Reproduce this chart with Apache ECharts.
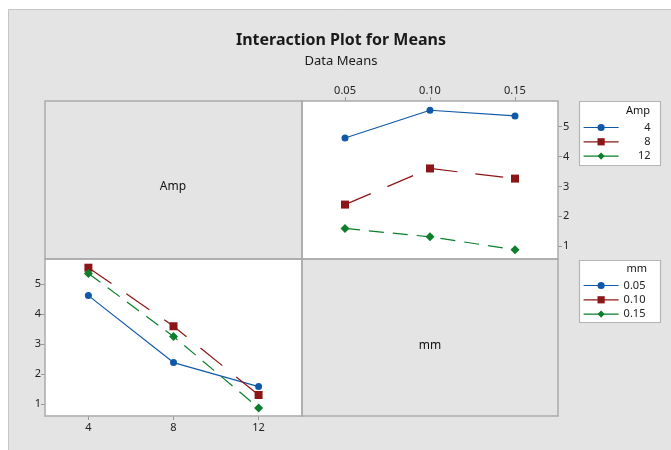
<!DOCTYPE html>
<html><head><meta charset="utf-8">
<script src="https://cdn.jsdelivr.net/npm/echarts@6/dist/echarts.min.js"></script>
<style>html,body{margin:0;padding:0;background:#fff}#c{width:671px;height:450px}</style>
</head><body><div id="c"></div>
<script>
// Data
const mmLevels = [0.05, 0.10, 0.15];
const ampLevels = [4, 8, 12];
const ampNames = ['4', '8', '12'];
const mmNames = ['0.05', '0.10', '0.15'];
// means[ampIndex][mmIndex]
const amp4 = [4.62, 5.55, 5.36];
const amp8 = [2.39, 3.60, 3.26];
const amp12 = [1.59, 1.31, 0.88];
const yTicks = [1, 2, 3, 4, 5];

const ampSeriesVals = [amp4, amp8, amp12];
const colors = ['#1059a8', '#8c1515', '#0b7f2a'];
const symbols = ['circle', 'rect', 'diamond'];
const symSizes = [7, 8, 9];
const dashes = ['solid', [28, 18], [15, 9]];
const FONT = 'Noto Sans';

const series = [];
// top-right: x = mm, one line per Amp
ampSeriesVals.forEach((vals, i) => {
  series.push({
    name: ampNames[i], type: 'line', xAxisIndex: 0, yAxisIndex: 0,
    data: mmLevels.map((m, j) => [m, vals[j]]),
    symbol: symbols[i], symbolSize: symSizes[i],
    itemStyle: {color: colors[i]},
    lineStyle: {color: colors[i], width: 1.2, type: dashes[i]},
    animation: false
  });
});
// bottom-left: x = Amp, one line per mm
mmLevels.forEach((m, j) => {
  series.push({
    name: mmNames[j], type: 'line', xAxisIndex: 1, yAxisIndex: 1,
    data: ampLevels.map((a, i) => [a, ampSeriesVals[i][j]]),
    symbol: symbols[j], symbolSize: symSizes[j],
    itemStyle: {color: colors[j]},
    lineStyle: {color: colors[j], width: 1.2, type: dashes[j]},
    animation: false
  });
});

const axisCommon = {
  axisLine: {show: false},
  splitLine: {show: false},
  axisTick: {show: true, length: 4, lineStyle: {color: '#999'}},
};
const labelStyle = {color: '#222', fontSize: 11, fontFamily: FONT};

const chart = echarts.init(document.getElementById('c'), null, {renderer: 'canvas'});
chart.setOption({
  backgroundColor: '#ffffff',
  animation: false,
  grid: [
    {left: 302, top: 101, width: 256, height: 158, show: true, backgroundColor: '#ffffff', borderColor: '#ababab', borderWidth: 1.5, z: 1},
    {left: 45, top: 259, width: 257, height: 157, show: true, backgroundColor: '#ffffff', borderColor: '#ababab', borderWidth: 1.5, z: 1}
  ],
  xAxis: [
    Object.assign({}, axisCommon, {gridIndex: 0, type: 'value', position: 'top', min: 0.0247, max: 0.1753,
      axisTick: Object.assign({}, axisCommon.axisTick, {customValues: mmLevels}),
      axisLabel: Object.assign({}, labelStyle, {margin: 5, customValues: mmLevels, formatter: v => v.toFixed(2)})}),
    Object.assign({}, axisCommon, {gridIndex: 1, type: 'value', position: 'bottom', min: 1.96, max: 14.04,
      axisTick: Object.assign({}, axisCommon.axisTick, {customValues: ampLevels}),
      axisLabel: Object.assign({}, labelStyle, {margin: 6, customValues: ampLevels})})
  ],
  yAxis: [
    Object.assign({}, axisCommon, {gridIndex: 0, type: 'value', position: 'right', min: 0.567, max: 5.86,
      axisTick: Object.assign({}, axisCommon.axisTick, {customValues: yTicks}),
      axisLabel: Object.assign({}, labelStyle, {margin: 5, customValues: yTicks})}),
    Object.assign({}, axisCommon, {gridIndex: 1, type: 'value', position: 'left', min: 0.61, max: 5.84,
      axisTick: Object.assign({}, axisCommon.axisTick, {customValues: yTicks}),
      axisLabel: Object.assign({}, labelStyle, {margin: 4, customValues: yTicks})})
  ],
  legend: [
    {data: ampNames, orient: 'vertical', left: 583, top: 121.5, padding: 0, itemGap: 2.3,
     itemWidth: 35, itemHeight: 9, selectedMode: false,
     lineStyle: {type: 'solid', width: 1.2},
     formatter: n => '{r|' + n + '}',
     textStyle: {fontSize: 11, fontFamily: FONT, color: '#222', lineHeight: 12,
       rich: {r: {width: 27, align: 'right', fontSize: 11, fontFamily: FONT, color: '#222', lineHeight: 12}}}},
    {data: mmNames, orient: 'vertical', left: 583, top: 279.5, padding: 0, itemGap: 2.3,
     itemWidth: 35, itemHeight: 9, selectedMode: false,
     lineStyle: {type: 'solid', width: 1.2},
     textStyle: {fontSize: 11, fontFamily: FONT, color: '#222', lineHeight: 12}}
  ],
  graphic: [
    // outer frame
    {type: 'rect', z: -10, shape: {x: 8.5, y: 9.5, width: 700, height: 500}, style: {fill: '#e4e4e4', stroke: '#c6c6c6', lineWidth: 1}},
    // gray label panels
    {type: 'rect', z: 5, shape: {x: 45, y: 101, width: 257, height: 158}, style: {fill: 'none', stroke: '#ababab', lineWidth: 1.5}},
    {type: 'rect', z: 5, shape: {x: 302, y: 259, width: 256, height: 157}, style: {fill: 'none', stroke: '#ababab', lineWidth: 1.5}},
    {type: 'text', z: 6, x: 173, y: 187, style: {text: 'Amp', fontSize: 12, fontFamily: FONT, fill: '#111', align: 'center', verticalAlign: 'middle'}},
    {type: 'text', z: 6, x: 430, y: 346, style: {text: 'mm', fontSize: 12, fontFamily: FONT, fill: '#111', align: 'center', verticalAlign: 'middle'}},
    // titles
    {type: 'text', z: 6, x: 341, y: 40, style: {text: 'Interaction Plot for Means', fontSize: 16, fontWeight: 'bold', fontFamily: FONT, fill: '#1a1a1a', align: 'center', verticalAlign: 'middle'}},
    {type: 'text', z: 6, x: 341, y: 61, style: {text: 'Data Means', fontSize: 13, fontFamily: FONT, fill: '#1a1a1a', align: 'center', verticalAlign: 'middle'}},
    // legend boxes
    {type: 'rect', z: 0, shape: {x: 579.5, y: 101.5, width: 81, height: 64}, style: {fill: '#ffffff', stroke: '#b5b5b5', lineWidth: 1.2}},
    {type: 'rect', z: 0, shape: {x: 579.5, y: 260.5, width: 81, height: 62}, style: {fill: '#ffffff', stroke: '#b5b5b5', lineWidth: 1.2}},
    {type: 'text', z: 6, x: 650, y: 111, style: {text: 'Amp', fontSize: 11, fontFamily: FONT, fill: '#111', align: 'right', verticalAlign: 'middle'}},
    {type: 'text', z: 6, x: 647, y: 269, style: {text: 'mm', fontSize: 11, fontFamily: FONT, fill: '#111', align: 'right', verticalAlign: 'middle'}}
  ],
  series: series
});
</script></body></html>
